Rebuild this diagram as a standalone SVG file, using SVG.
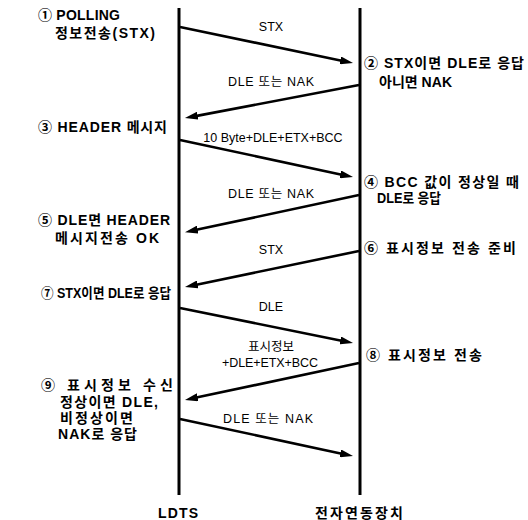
<svg xmlns="http://www.w3.org/2000/svg" width="528" height="520" viewBox="0 0 528 520">
<style>
  text { font-family: "Liberation Sans", "Noto Sans CJK KR", sans-serif; fill: #000; }
  .side { font-size: 14px; font-weight: bold; }
  .msg { font-size: 12.5px; text-anchor: middle; }
  .actor { font-size: 14px; font-weight: bold; text-anchor: middle; }
  .life { stroke: #000; stroke-width: 3; fill: none; }
  .arrow { stroke: #000; stroke-width: 2.6; fill: none; marker-end: url(#ah); }
</style>
<defs>
  <marker id="ah" markerUnits="userSpaceOnUse" markerWidth="14" markerHeight="8" refX="5" refY="4" orient="auto">
    <path d="M0,0 L13,4 L0,8 z" fill="#000"/>
  </marker>
</defs>
<rect width="528" height="520" fill="#fff"/>

<g id="lifeline-ldts">
  <line class="life" x1="179" y1="8" x2="179" y2="495"/>
  <text class="actor" x="178" y="518" textLength="40" lengthAdjust="spacing">LDTS</text>
</g>
<g id="lifeline-interlock">
  <line class="life" x1="360" y1="8" x2="360" y2="495"/>
  <text class="actor" x="359" y="518" textLength="88" lengthAdjust="spacing">전자연동장치</text>
</g>

<g id="connectors">
  <line class="arrow" x1="180" y1="27" x2="345.2" y2="61.4"/>
  <text class="msg" x="271" y="31">STX</text>

  <line class="arrow" x1="359" y1="85" x2="192.8" y2="116.6"/>
  <text class="msg" x="271" y="86" textLength="86" lengthAdjust="spacing">DLE 또는 NAK</text>

  <line class="arrow" x1="180" y1="140" x2="345.2" y2="175.4"/>
  <text class="msg" x="273" y="142">10 Byte+DLE+ETX+BCC</text>

  <line class="arrow" x1="359" y1="195" x2="192.8" y2="230.6"/>
  <text class="msg" x="271" y="198" textLength="86" lengthAdjust="spacing">DLE 또는 NAK</text>

  <line class="arrow" x1="359" y1="251" x2="192.8" y2="285.4"/>
  <text class="msg" x="271" y="254">STX</text>

  <line class="arrow" x1="180" y1="308" x2="345.2" y2="341.4"/>
  <text class="msg" x="271" y="311">DLE</text>

  <line class="arrow" x1="359" y1="363" x2="192.8" y2="398.3"/>
  <text class="msg" x="271" y="351">표시정보</text>
  <text class="msg" x="270" y="367" textLength="96" lengthAdjust="spacing">+DLE+ETX+BCC</text>

  <line class="arrow" x1="180" y1="419" x2="345.2" y2="454.4"/>
  <text class="msg" x="268" y="423" textLength="90" lengthAdjust="spacing">DLE 또는  NAK</text>
</g>

<g id="step1">
  <text class="side" x="38" y="20" textLength="82" lengthAdjust="spacing">① POLLING</text>
  <text class="side" x="55" y="38" textLength="100" lengthAdjust="spacing">정보전송(STX)</text>
</g>
<g id="step2">
  <text class="side" x="364" y="68" textLength="160" lengthAdjust="spacing">② STX이면 DLE로 응답</text>
  <text class="side" x="379" y="87" textLength="73" lengthAdjust="spacing">아니면 NAK</text>
</g>
<g id="step3">
  <text class="side" x="38" y="132" textLength="129" lengthAdjust="spacing">③ HEADER 메시지</text>
</g>
<g id="step4">
  <text class="side" x="364" y="187" textLength="155" lengthAdjust="spacing">④ BCC 값이 정상일 때</text>
  <text class="side" x="377" y="203" textLength="64" lengthAdjust="spacingAndGlyphs">DLE로 응답</text>
</g>
<g id="step5">
  <text class="side" x="38" y="225" textLength="132" lengthAdjust="spacing">⑤ DLE면 HEADER</text>
  <text class="side" x="55" y="243" textLength="104" lengthAdjust="spacing">메시지전송 OK</text>
</g>
<g id="step6">
  <text class="side" x="364" y="253" textLength="152" lengthAdjust="spacing">⑥ 표시정보 전송 준비</text>
</g>
<g id="step7">
  <text class="side" x="41" y="298" textLength="130" lengthAdjust="spacingAndGlyphs">⑦ STX이면 DLE로 응답</text>
</g>
<g id="step8">
  <text class="side" x="366" y="360" textLength="116" lengthAdjust="spacing">⑧ 표시정보 전송</text>
</g>
<g id="step9">
  <text class="side" x="41" y="390" textLength="132" lengthAdjust="spacing">⑨ 표시정보 수신</text>
  <text class="side" x="60" y="407" textLength="98" lengthAdjust="spacing">정상이면 DLE,</text>
  <text class="side" x="60" y="423" textLength="73" lengthAdjust="spacing">비정상이면</text>
  <text class="side" x="58" y="439" textLength="79" lengthAdjust="spacing">NAK로 응답</text>
</g>
</svg>
